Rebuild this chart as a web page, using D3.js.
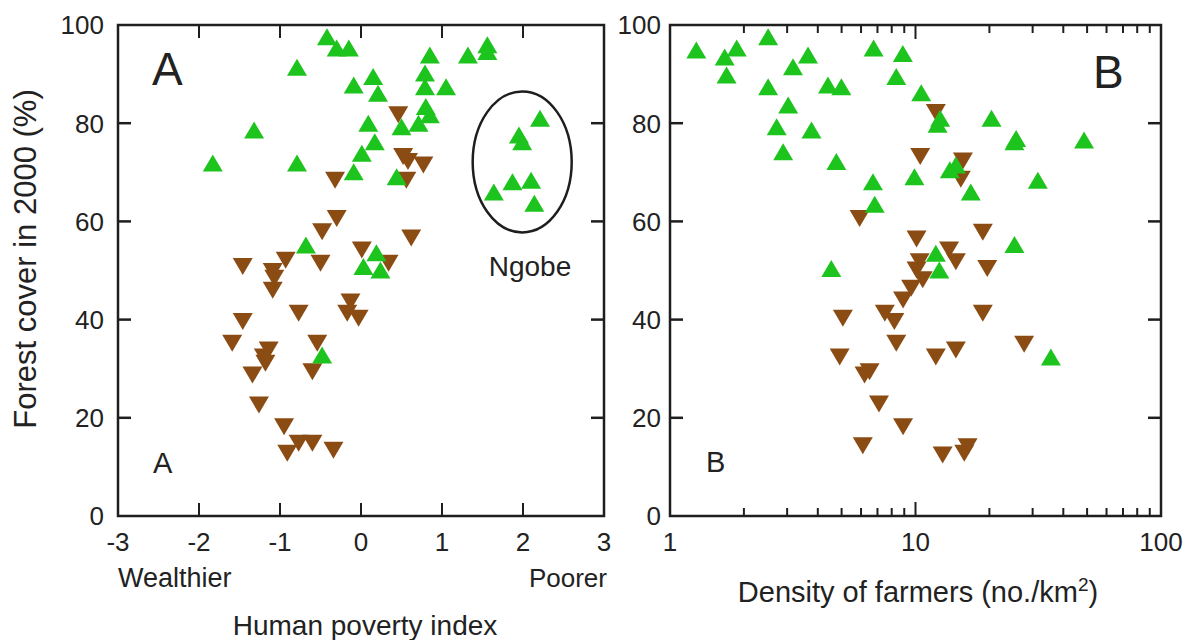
<!DOCTYPE html>
<html><head><meta charset="utf-8">
<script src="https://cdn.jsdelivr.net/npm/d3@7"></script>
<style>
body{margin:0;background:#fff}
svg{display:block}
text{font-family:"Liberation Sans",Arial,sans-serif;fill:#222}
</style>
</head><body>
<svg id="chart" width="1187" height="640"></svg>
<script>
// ---------- data ----------
const yTicks = [0, 20, 40, 60, 80, 100];
const hpiTicks = [-3, -2, -1, 0, 1, 2, 3];
const densityTicks = [1, 10, 100];
const densityMinor = [2,3,4,5,6,7,8,9,20,30,40,50,60,70,80,90];

// Panel A: human poverty index vs forest cover 2000 (%)
const hpiGreen = [[-0.42,97.6],[-0.30,95.3],[-0.15,95.3],[-0.79,91.4],[0.85,93.9],[1.32,93.9],[1.56,96.0],[1.56,94.6],
  [-0.09,87.8],[0.15,89.5],[0.21,86.1],[0.79,90.2],[0.79,87.4],[1.05,87.4],[0.80,83.4],[0.85,81.7],[0.71,80.0],
  [0.50,79.3],[0.09,80.0],[0.17,76.2],[0.01,73.9],[-0.09,70.1],[0.44,69.1],[-1.32,78.6],[-1.83,71.9],[-0.79,71.9],
  [-0.68,55.2],[0.19,53.6],[0.03,50.8],[0.24,50.1],[-0.48,32.8]];
const hpiNgobe = [[2.21,81.0],[1.95,77.6],[1.99,76.2],[1.64,66.0],[1.87,68.1],[2.10,68.4],[2.14,63.7]];
const hpiBrown = [[0.46,81.7],[0.52,73.2],[0.58,72.2],[0.77,71.5],[0.56,68.4],[-0.32,68.4],[-0.30,60.6],[-0.48,57.9],
  [0.62,56.6],[-0.93,52.1],[-1.46,50.8],[-1.09,49.8],[-1.07,48.4],[-1.09,46.0],[-0.50,51.5],[0.01,54.2],[0.34,51.5],
  [-0.13,43.6],[-0.17,41.3],[-0.03,40.3],[-0.77,41.3],[-1.46,39.6],[-1.59,35.2],[-1.14,33.8],[-1.20,32.4],[-1.18,31.1],
  [-0.54,35.2],[-0.60,29.4],[-1.34,28.7],[-1.26,22.6],[-0.95,18.2],[-0.77,14.8],[-0.60,14.8],[-0.91,12.8],[-0.34,13.4]];

// Panel B: density of farmers (no./km2) vs forest cover 2000 (%)
const densGreen = [[1.28,94.9],[1.67,93.5],[1.87,95.3],[1.70,89.8],[2.51,97.6],[3.17,91.5],[3.65,93.9],[2.51,87.4],
  [4.40,87.8],[4.99,87.4],[3.03,83.7],[2.72,79.3],[3.77,78.6],[2.89,74.2],[4.76,72.2],[6.75,95.3],[6.71,68.1],
  [6.82,63.5],[8.88,94.2],[8.35,89.5],[10.55,86.2],[12.6,81.0],[12.3,79.8],[20.4,81.0],[25.7,76.9],[25.3,76.2],
  [48.6,76.6],[9.9,69.1],[13.8,70.5],[14.6,71.5],[16.8,66.0],[31.5,68.4],[25.3,55.3],[12.1,53.5],[12.5,50.1],
  [4.54,50.4],[35.6,32.4]];
const densBrown = [[12.1,82.2],[10.45,73.2],[15.6,72.3],[15.3,68.6],[5.92,60.6],[18.8,57.8],[10.1,56.4],[13.7,54.2],
  [14.6,51.8],[19.6,50.4],[10.4,51.8],[10.1,50.1],[10.7,48.1],[9.6,46.4],[8.9,44.0],[7.5,41.3],[8.2,39.6],[5.06,40.3],
  [18.8,41.3],[27.7,35.0],[8.35,35.2],[4.91,32.4],[12.1,32.4],[14.6,33.8],[6.5,29.4],[6.2,28.7],[7.1,22.8],[8.9,18.2],
  [6.1,14.3],[12.9,12.4],[16.3,14.1],[15.8,12.8]];

// ---------- layout ----------
const svg = d3.select("#chart");
const plotTop = 25, plotBottom = 516;
const GREEN = "#1ec41e", BROWN = "#8b4c14", INK = "#1e1e1e";
const upTri = "M0,-8.5L10,8.5L-10,8.5Z";
const downTri = "M0,8.5L10,-8.5L-10,-8.5Z";

const y = d3.scaleLinear().domain([0, 100]).range([plotBottom, plotTop]);
const xA = d3.scaleLinear().domain([-3, 3]).range([118, 604]);
const xB = d3.scaleLog().domain([1, 100]).range([670, 1161]);

function frame(x0, x1) {
  svg.append("rect").attr("x", x0).attr("y", plotTop).attr("width", x1 - x0).attr("height", plotBottom - plotTop)
    .attr("fill", "none").attr("stroke", INK).attr("stroke-width", 2.5);
}
function yAxes(x0, x1, gap) {
  const g = svg.append("g");
  const inner = yTicks.filter(d => d > 0 && d < 100);
  g.selectAll("line.l").data(inner).join("line")
    .attr("x1", x0).attr("x2", x0 + 13).attr("y1", d => y(d)).attr("y2", d => y(d))
    .attr("stroke", INK).attr("stroke-width", 2.5);
  g.selectAll("line.r").data(inner).join("line")
    .attr("x1", x1).attr("x2", x1 - 13).attr("y1", d => y(d)).attr("y2", d => y(d))
    .attr("stroke", INK).attr("stroke-width", 2.5);
  g.selectAll("text").data(yTicks).join("text")
    .attr("x", x0 - gap).attr("y", d => y(d)).attr("dy", "0.36em")
    .attr("text-anchor", "end").attr("font-size", 26).text(d => d);
}
function xTicks(scale, vals, len) {
  const g = svg.append("g");
  vals.forEach(v => {
    g.append("line").attr("x1", scale(v)).attr("x2", scale(v)).attr("y1", plotBottom).attr("y2", plotBottom - len)
      .attr("stroke", INK).attr("stroke-width", 2);
    g.append("line").attr("x1", scale(v)).attr("x2", scale(v)).attr("y1", plotTop).attr("y2", plotTop + len)
      .attr("stroke", INK).attr("stroke-width", 2);
  });
}
function points(scale, data, path, color) {
  svg.append("g").selectAll("path").data(data).join("path")
    .attr("d", path).attr("fill", color)
    .attr("transform", d => `translate(${scale(d[0])},${y(d[1])})`);
}

// ---------- Panel A ----------
frame(118, 604);
yAxes(118, 604, 14);
xTicks(xA, hpiTicks.filter(d => d > -3 && d < 3), 13);
svg.append("g").selectAll("text").data(hpiTicks).join("text")
  .attr("x", d => xA(d)).attr("y", 551).attr("text-anchor", "middle").attr("font-size", 26)
  .text(d => d < 0 ? "-" + Math.abs(d) : d);
points(xA, hpiBrown, downTri, BROWN);
points(xA, hpiGreen, upTri, GREEN);
points(xA, hpiNgobe, upTri, GREEN);
svg.append("ellipse").attr("cx", xA(1.99)).attr("cy", y(72.1)).attr("rx", 49.5).attr("ry", 70.5)
  .attr("fill", "none").attr("stroke", INK).attr("stroke-width", 2.5);
svg.append("text").attr("x", 530).attr("y", 276).attr("text-anchor", "middle").attr("font-size", 28).text("Ngobe");
svg.append("text").attr("x", 152).attr("y", 85).attr("font-size", 46).text("A");
svg.append("text").attr("x", 153).attr("y", 473).attr("font-size", 29).text("A");
svg.append("text").attr("x", 118).attr("y", 587).attr("font-size", 27).text("Wealthier");
svg.append("text").attr("x", 607).attr("y", 587).attr("text-anchor", "end").attr("font-size", 26).text("Poorer");
svg.append("text").attr("x", 365).attr("y", 635).attr("text-anchor", "middle").attr("font-size", 28).text("Human poverty index");
svg.append("text").attr("transform", "translate(36,259) rotate(-90)").attr("text-anchor", "middle")
  .attr("font-size", 31).text("Forest cover in 2000 (%)");

// ---------- Panel B ----------
frame(670, 1161);
yAxes(670, 1161, 9);
xTicks(xB, [10], 14);
xTicks(xB, densityMinor, 8);
svg.append("g").selectAll("text").data(densityTicks).join("text")
  .attr("x", d => xB(d)).attr("y", 551).attr("text-anchor", "middle").attr("font-size", 26).text(d => d);
points(xB, densBrown, downTri, BROWN);
points(xB, densGreen, upTri, GREEN);
svg.append("text").attr("x", 1093).attr("y", 88).attr("font-size", 46).text("B");
svg.append("text").attr("x", 706).attr("y", 472).attr("font-size", 29).text("B");
const dl = svg.append("text").attr("x", 918).attr("y", 602).attr("text-anchor", "middle").attr("font-size", 29);
dl.append("tspan").text("Density of farmers (no./km");
dl.append("tspan").attr("dy", -11).attr("font-size", 19).text("2");
dl.append("tspan").attr("dy", 11).text(")");
</script>
</body></html>
